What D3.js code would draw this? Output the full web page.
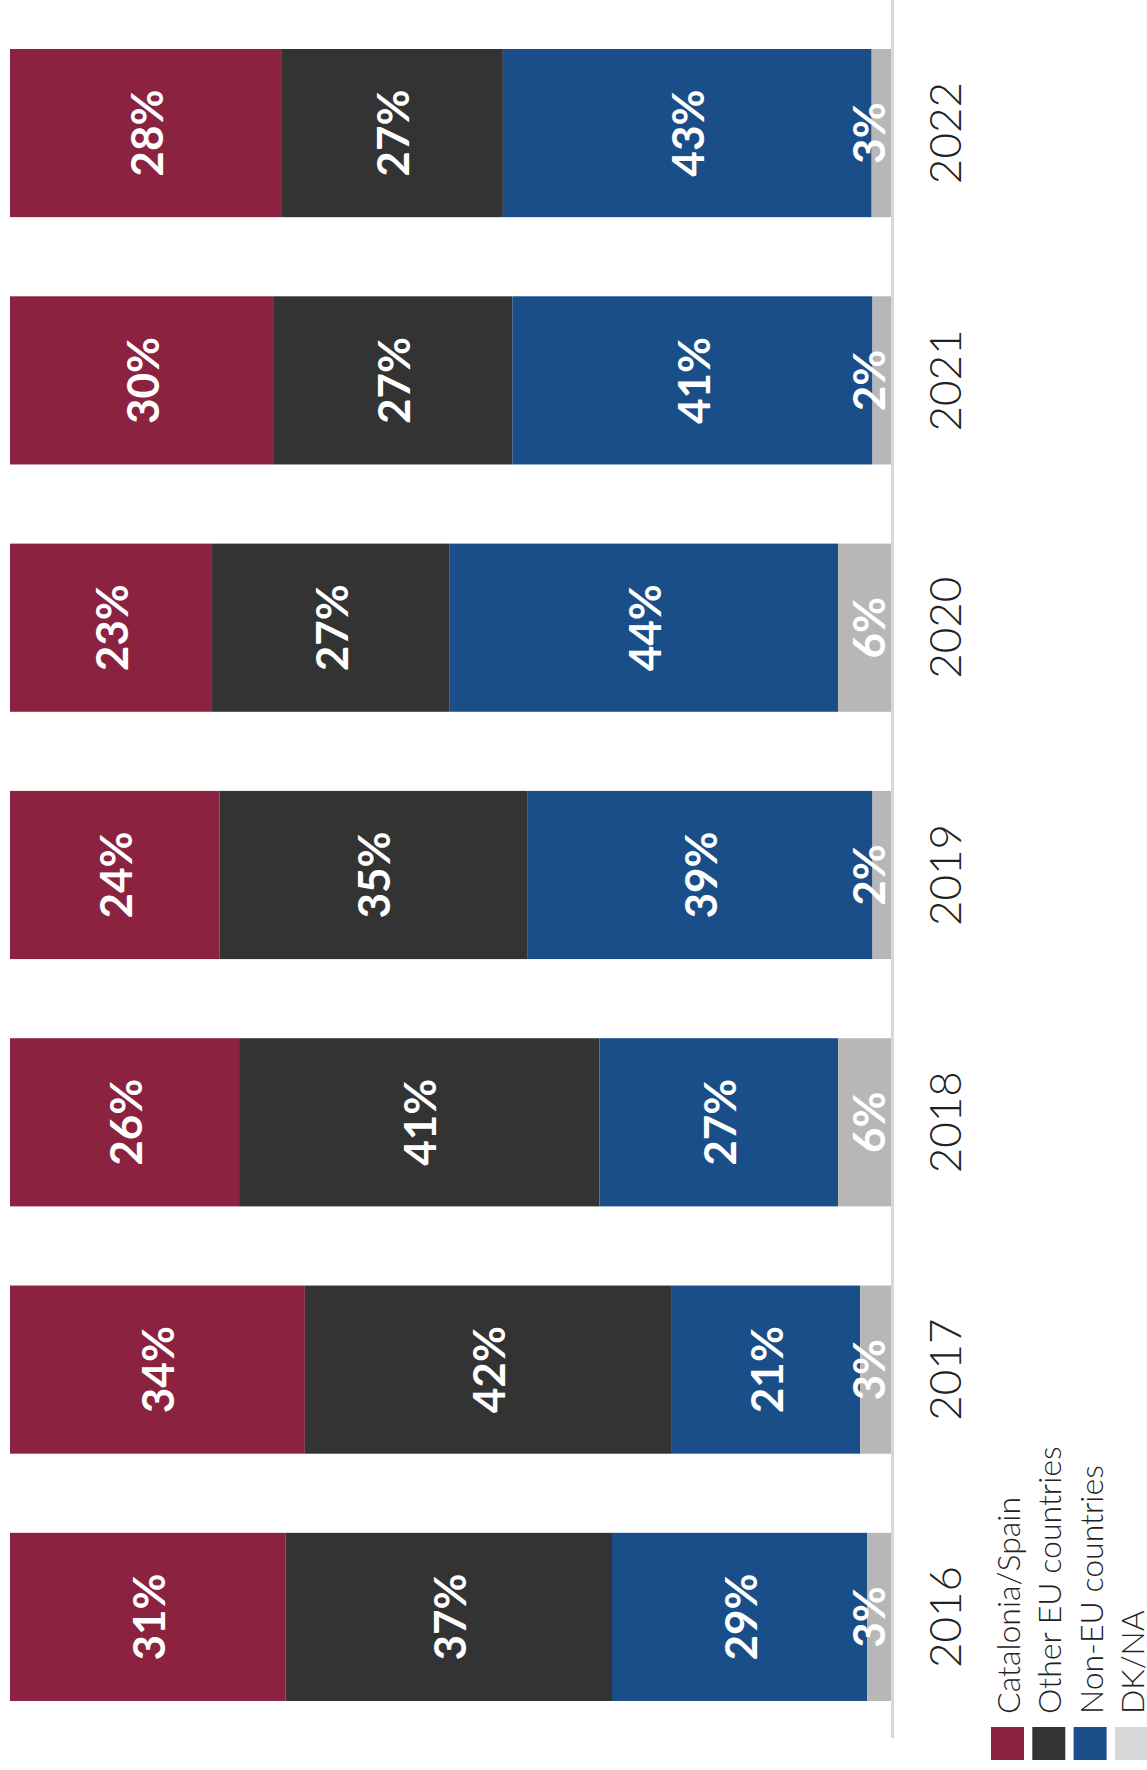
<!DOCTYPE html>
<html>
<head>
<meta charset="utf-8">
<script src="https://cdn.jsdelivr.net/npm/d3@7"></script>
<style>
  html, body { margin: 0; padding: 0; background: #fff; }
  svg { display: block; }
</style>
</head>
<body>
<svg id="chart" width="1147" height="1770"></svg>
<script>
// ---- data ----
const years = ["2016", "2017", "2018", "2019", "2020", "2021", "2022"];
const seriesNames = ["Catalonia/Spain", "Other EU countries", "Non-EU countries", "DK/NA"];
// bar shares as drawn
const cataloniaSpain   = [31.3, 33.5, 26.0, 23.8, 22.9, 29.9, 30.9];
const otherEU          = [37.1, 41.7, 40.9, 34.9, 26.9, 27.2, 25.1];
const nonEU            = [29.0, 21.4, 27.1, 39.2, 44.1, 40.9, 41.9];
const dkNa             = [ 2.7,  3.5,  6.0,  2.1,  6.0,  2.1,  2.2];
// printed labels
const cataloniaLabels  = ["31%", "34%", "26%", "24%", "23%", "30%", "28%"];
const otherEULabels    = ["37%", "42%", "41%", "35%", "27%", "27%", "27%"];
const nonEULabels      = ["29%", "21%", "27%", "39%", "44%", "41%", "43%"];
const dkNaLabels       = ["3%",  "3%",  "6%",  "2%",  "6%",  "2%",  "3%"];

const colors = ["#8b2240", "#333333", "#1a4e88", "#b7b7b7"];
const legendColors = ["#8b2240", "#333333", "#1a4e88", "#d8d8d8"];

const keys = ["cat", "eu", "non", "dk"];
const valueArrays = [cataloniaSpain, otherEU, nonEU, dkNa];
const labelArrays = [cataloniaLabels, otherEULabels, nonEULabels, dkNaLabels];

const rows = years.map((y, i) => {
  const r = { year: y, i: i };
  keys.forEach((k, j) => r[k] = valueArrays[j][i]);
  return r;
});

const svg = d3.select("#chart");

const x = d3.scaleLinear().domain([0, 1]).range([10, 891]);
const y = d3.scaleBand()
  .domain(years.slice().reverse())
  .range([49, 1701])
  .paddingInner(0.32)
  .paddingOuter(0);

const stacked = d3.stack().keys(keys).offset(d3.stackOffsetExpand)(rows);

// bars
const layers = svg.append("g").selectAll("g")
  .data(stacked)
  .join("g")
  .attr("fill", (d, i) => colors[i]);

layers.selectAll("rect")
  .data(d => d)
  .join("rect")
  .attr("x", d => x(d[0]))
  .attr("width", d => x(d[1]) - x(d[0]))
  .attr("y", d => y(d.data.year))
  .attr("height", y.bandwidth());

// value labels
const labelFont = "Lato, 'Open Sans', sans-serif";
stacked.forEach((layer, li) => {
  svg.append("g").selectAll("text")
    .data(layer)
    .join("text")
    .attr("transform", d => {
      let cx = (x(d[0]) + x(d[1])) / 2;
      if (li === 3) cx = x(1) - 23;
      const cy = y(d.data.year) + y.bandwidth() / 2;
      return `translate(${cx},${cy}) rotate(-90)`;
    })
    .attr("text-anchor", "middle")
    .attr("dominant-baseline", "central")
    .attr("fill", "#ffffff")
    .attr("font-family", labelFont)
    .attr("font-weight", 700)
    .attr("font-size", 44)
    .text(d => labelArrays[li][d.data.i]);
});

// axis line
svg.append("line")
  .attr("x1", 892.5).attr("x2", 892.5)
  .attr("y1", 0).attr("y2", 1738)
  .attr("stroke", "#d8d8d8")
  .attr("stroke-width", 3);

// year labels
svg.append("g").selectAll("text")
  .data(years)
  .join("text")
  .attr("transform", d => `translate(944,${y(d) + y.bandwidth() / 2}) rotate(-90)`)
  .attr("text-anchor", "middle")
  .attr("dominant-baseline", "central")
  .attr("fill", "#222")
  .attr("font-family", labelFont)
  .attr("font-weight", 300)
  .attr("font-size", 44)
  .text(d => d);

// legend
const legend = svg.append("g");
seriesNames.forEach((name, i) => {
  const cx = 1007.5 + i * 41.3;
  legend.append("rect")
    .attr("x", cx - 16.5).attr("y", 1727)
    .attr("width", 33).attr("height", 33)
    .attr("fill", legendColors[i]);
  legend.append("text")
    .attr("transform", `translate(${cx},1714) rotate(-90)`)
    .attr("text-anchor", "start")
    .attr("dominant-baseline", "central")
    .attr("fill", "#222")
    .attr("font-family", labelFont)
    .attr("font-weight", 300)
    .attr("font-size", 32)
    .text(name);
});
</script>
</body>
</html>
